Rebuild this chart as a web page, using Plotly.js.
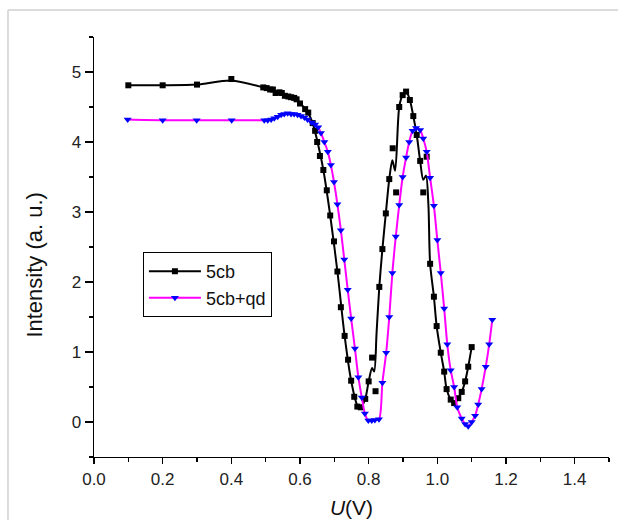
<!DOCTYPE html>
<html>
<head>
<meta charset="utf-8">
<script src="https://cdn.plot.ly/plotly-3.0.1.min.js"></script>
<style>html,body{margin:0;padding:0;background:#fff}#chart{width:618px;height:520px}</style>
</head>
<body>
<div id="chart"></div>
<script>
// 5cb measured points
const cbU = [0.100,0.200,0.300,0.400,0.493,0.503,0.513,0.521,0.529,0.540,0.547,0.556,0.566,0.574,0.583,0.590,0.600,0.615,0.624,0.637,0.644,0.650,0.658,0.668,0.678,0.688,0.699,0.709,0.719,0.730,0.740,0.749,0.758,0.767,0.777,0.790,0.800,0.810,0.820,0.831,0.840,0.850,0.860,0.870,0.880,0.889,0.899,0.909,0.920,0.930,0.940,0.950,0.959,0.969,0.979,0.990,0.998,1.010,1.020,1.027,1.039,1.049,1.061,1.071,1.081,1.090,1.100];
const cbI = [4.81,4.81,4.82,4.90,4.78,4.77,4.75,4.75,4.70,4.71,4.70,4.66,4.65,4.64,4.63,4.61,4.55,4.47,4.42,4.27,4.16,4.00,3.80,3.60,3.31,2.95,2.58,2.15,1.64,1.23,0.89,0.59,0.36,0.22,0.21,0.33,0.58,0.92,0.44,1.93,2.47,2.98,3.47,3.91,3.28,4.50,4.67,4.72,4.60,4.37,4.10,3.73,3.28,3.79,2.26,1.79,1.37,0.99,0.72,0.47,0.32,0.27,0.34,0.43,0.58,0.79,1.07];
// 5cb fitted curve
const cbFitU = [0.100,0.200,0.300,0.400,0.493,0.513,0.529,0.547,0.566,0.583,0.600,0.615,0.624,0.637,0.650,0.668,0.688,0.709,0.730,0.749,0.767,0.777,0.790,0.800,0.810,0.816,0.823,0.831,0.840,0.850,0.860,0.869,0.877,0.889,0.899,0.909,0.920,0.930,0.940,0.950,0.959,0.967,0.974,0.979,0.990,0.998,1.010,1.020,1.027,1.039,1.049,1.061,1.071,1.081,1.090,1.100];
const cbFitI = [4.81,4.81,4.82,4.88,4.78,4.75,4.71,4.69,4.65,4.63,4.56,4.47,4.41,4.27,4.02,3.60,2.95,2.15,1.23,0.59,0.24,0.21,0.33,0.58,0.77,0.72,1.27,1.93,2.47,2.98,3.47,3.74,3.59,4.50,4.67,4.72,4.60,4.37,4.10,3.73,3.46,3.52,3.10,2.26,1.79,1.37,0.99,0.72,0.47,0.32,0.27,0.34,0.43,0.58,0.79,1.07];
// 5cb+qd measured points
const qdU = [0.098,0.200,0.299,0.401,0.496,0.506,0.516,0.525,0.535,0.545,0.554,0.564,0.574,0.583,0.593,0.603,0.613,0.622,0.634,0.644,0.653,0.661,0.671,0.681,0.690,0.699,0.709,0.719,0.729,0.739,0.749,0.760,0.770,0.780,0.789,0.799,0.809,0.818,0.830,0.840,0.851,0.860,0.869,0.879,0.889,0.899,0.909,0.918,0.928,0.938,0.950,0.959,0.969,0.979,0.990,1.000,1.010,1.020,1.029,1.039,1.049,1.058,1.071,1.081,1.090,1.100,1.110,1.119,1.129,1.141,1.151,1.160];
const qdI = [4.32,4.31,4.31,4.31,4.31,4.31,4.32,4.34,4.36,4.39,4.40,4.41,4.40,4.40,4.39,4.37,4.35,4.32,4.28,4.25,4.21,4.13,4.00,3.86,3.67,3.43,3.11,2.74,2.32,1.89,1.48,1.05,0.64,0.35,0.12,0.02,0.02,0.03,0.04,0.56,0.99,1.50,2.13,2.65,3.10,3.50,3.78,4.00,4.16,4.20,4.17,4.05,3.86,3.49,3.09,2.60,2.13,1.62,1.11,0.74,0.50,0.21,0.05,-0.03,-0.06,0.00,0.09,0.25,0.47,0.79,1.11,1.46];

const xTickVals = [0.0,0.2,0.4,0.6,0.8,1.0,1.2,1.4];
const yTickVals = [0,1,2,3,4,5];
const xTitle = '<i>U</i>(V)';
const yTitle = 'Intensity (a. u.)';
const names = ['5cb','5cb+qd'];

const font = 'Liberation Sans, Arial, sans-serif';
const traces = [
  {x: cbFitU, y: cbFitI, mode: 'lines', line: {color: '#000', width: 2, shape: 'spline', smoothing: 0.8}, showlegend: false, hoverinfo: 'skip'},
  {x: cbU, y: cbI, mode: 'markers', marker: {symbol: 'square', size: 6, color: '#000'}, showlegend: false},
  {x: qdU, y: qdI, mode: 'lines', line: {color: '#ff00ff', width: 2, shape: 'spline', smoothing: 0.8}, showlegend: false, hoverinfo: 'skip'},
  {x: qdU, y: qdI, mode: 'markers', marker: {symbol: 'triangle-down', size: 7, color: '#0000ff'}, showlegend: false},
  {x: [null], y: [null], name: names[0], mode: 'lines+markers', line: {color: '#000', width: 2}, marker: {symbol: 'square', size: 6, color: '#000'}},
  {x: [null], y: [null], name: names[1], mode: 'lines+markers', line: {color: '#ff00ff', width: 2}, marker: {symbol: 'triangle-down', size: 7, color: '#0000ff'}}
];

const layout = {
  width: 618, height: 520,
  margin: {l: 94, r: 9, t: 37, b: 63},
  paper_bgcolor: '#fff', plot_bgcolor: '#fff',
  font: {family: font, color: '#222', size: 17},
  showlegend: true,
  legend: {x: 0.095, y: 0.488, xanchor: 'left', yanchor: 'top', bordercolor: '#000', borderwidth: 1, bgcolor: '#fff', font: {size: 18, family: font, color: '#111'}, traceorder: 'normal', tracegroupgap: 0, itemwidth: 52},
  xaxis: {
    range: [0, 1.5], tickvals: xTickVals, ticktext: xTickVals.map(v => v.toFixed(1)),
    showgrid: false, zeroline: false, showline: true, linecolor: '#000', linewidth: 1.3,
    ticks: 'outside', ticklen: 6, tickwidth: 1.3, tickcolor: '#000',
    minor: {dtick: 0.1, tick0: 0, ticks: 'outside', ticklen: 4, tickwidth: 1.3, tickcolor: '#000', showgrid: false},
    tickfont: {size: 17, color: '#222'},
    title: {text: xTitle, font: {size: 21, color: '#111'}, standoff: 12}
  },
  yaxis: {
    range: [-0.5, 5.5], tickvals: yTickVals,
    showgrid: false, zeroline: false, showline: true, linecolor: '#000', linewidth: 1.3,
    ticks: 'outside', ticklen: 8, tickwidth: 1.3, tickcolor: '#000',
    minor: {dtick: 0.5, tick0: 0, ticks: 'outside', ticklen: 4, tickwidth: 1.3, tickcolor: '#000', showgrid: false},
    tickfont: {size: 17, color: '#222'}
  },
  annotations: [
    {text: yTitle, xref: 'paper', yref: 'paper', x: -0.1146, y: 0.458, xanchor: 'center', yanchor: 'middle', textangle: -90, showarrow: false, font: {size: 22, color: '#111', family: font}}
  ],
  shapes: [
    {type: 'line', xref: 'paper', yref: 'paper', x0: -0.167, x1: -0.167, y0: 1.064, y1: -0.3, line: {color: '#d0d0d0', width: 1.5}},
    {type: 'line', xref: 'paper', yref: 'paper', x0: -0.167, x1: 1.1, y0: 1.064, y1: 1.064, line: {color: '#d0d0d0', width: 1.5}}
  ]
};

Plotly.newPlot('chart', traces, layout, {staticPlot: true, displayModeBar: false});
</script>
</body>
</html>
